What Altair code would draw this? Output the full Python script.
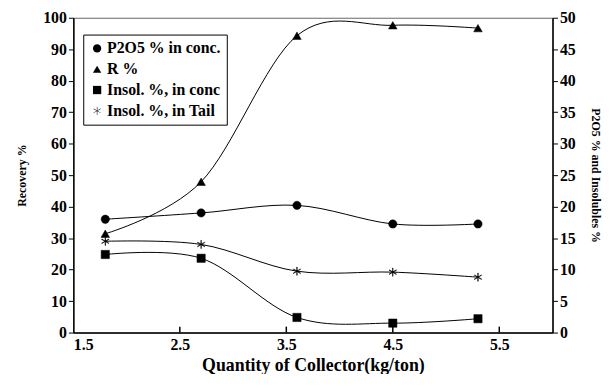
import altair as alt
import pandas as pd
import math

# ---- data ----
dosage = [1.8, 2.7, 3.6, 4.5, 5.3]
recovery = [31.4, 47.9, 94.3, 97.6, 96.7]          # R %, left axis
p2o5_conc = [18.0, 19.0, 20.2, 17.25, 17.25]         # right axis
insol_conc = [12.4, 11.8, 2.4, 1.5, 2.2]             # right axis
insol_tail = [14.5, 14.0, 9.75, 9.6, 8.8]            # right axis

series_names = ["P2O5 % in conc.", "R %", "Insol. %, in conc", "Insol. %, in Tail"]
x_ticks = [1.5, 2.5, 3.5, 4.5, 5.5]
inner_ticks = [2.5, 3.5, 4.5, 5.5]

left_df = pd.DataFrame({"x": dosage, "v": recovery, "s": "R %"})
right_df = pd.concat([
    pd.DataFrame({"x": dosage, "v": p2o5_conc, "s": "P2O5 % in conc."}),
    pd.DataFrame({"x": dosage, "v": insol_conc, "s": "Insol. %, in conc"}),
    pd.DataFrame({"x": dosage, "v": insol_tail, "s": "Insol. %, in Tail"}),
])
tick_df = pd.DataFrame({"x": inner_ticks})

FONT = "Liberation Serif, Times New Roman, serif"


def arm(angle_deg, w=0.06):
    a = math.radians(angle_deg)
    dx, dy = math.sin(a), -math.cos(a)
    px, py = -dy * w, dx * w
    pts = [(-dx + px, -dy + py), (dx + px, dy + py), (dx - px, dy - py), (-dx - px, -dy - py)]
    return "M" + "L".join(f"{x:.3f},{y:.3f}" for x, y in pts) + "Z"


star = arm(0) + arm(60) + arm(-60)

H = 318
xscale = alt.Scale(domain=[1.5, 6.0], nice=False, zero=False)
xaxis = alt.Axis(values=x_ticks, format=".1f", title="Quantity of Collector(kg/ton)",
                 ticks=False, labelPadding=4, titlePadding=4, titleFontSize=18,
                 labelFontSize=16, domainWidth=1.5)
X = alt.X("x:Q", scale=xscale, axis=xaxis)

shape = alt.Shape("s:N", scale=alt.Scale(domain=series_names,
                                         range=["circle", "triangle-up", "square", star]),
                  legend=alt.Legend(title=None, orient="none", legendX=10, legendY=17,
                                    strokeColor="black", fillColor="white", padding=6,
                                    labelFont=FONT, labelFontWeight="bold", labelFontSize=16,
                                    labelColor="black", rowPadding=5, symbolSize=70,
                                    symbolFillColor="black", symbolStrokeColor="black",
                                    symbolStrokeWidth=0.5, labelOffset=2))

# left axis layer (Recovery)
ly = alt.Y("v:Q", scale=alt.Scale(domain=[0, 100], nice=False),
           axis=alt.Axis(orient="left", values=list(range(0, 101, 10)), title="Recovery %",
                         tickSize=5, labelPadding=2, titlePadding=14, titleFontSize=12,
                         labelFontSize=16, domainWidth=1.5, grid=False))
left_line = alt.Chart(left_df).mark_line(interpolate="cardinal", color="black", strokeWidth=1).encode(
    x=X, y=ly, detail="s:N")
left_pts = alt.Chart(left_df).mark_point(filled=True, fill="black", stroke="black",
                                         strokeWidth=0.5, opacity=1, size=75).encode(
    x=X, y=ly, shape=shape)
left = alt.layer(left_line, left_pts)

# right axis layer (P2O5 and insolubles)
ry = alt.Y("v:Q", scale=alt.Scale(domain=[0, 50], nice=False),
           axis=alt.Axis(orient="right", values=list(range(0, 51, 5)),
                         title="P2O5 % and Insolubles %",
                         tickSize=5, labelPadding=2, titlePadding=13, titleFontSize=12,
                         labelFontSize=16, domainWidth=1.5, grid=False))
right_line = alt.Chart(right_df).mark_line(interpolate="cardinal", color="black", strokeWidth=1).encode(
    x=X, y=ry, detail="s:N")
right_pts = alt.Chart(right_df).mark_point(filled=True, fill="black", stroke="black",
                                           strokeWidth=0.5, opacity=1, size=70).encode(
    x=X, y=ry, shape=shape)
right = alt.layer(right_line, right_pts)

ticks = alt.Chart(tick_df).mark_rule(color="black", strokeWidth=1.5).encode(
    x=X, y=alt.value(H - 6), y2=alt.value(H))

chart = alt.layer(left, right, ticks).resolve_scale(y="independent").properties(
    width=484, height=H,
    autosize=alt.AutoSizeParams(type="none"),
    padding={"left": 66, "top": 8, "right": 52, "bottom": 40},
    background="white",
).configure_view(stroke="#666666", strokeWidth=1).configure_axis(
    labelFont=FONT, titleFont=FONT, labelFontWeight="bold", titleFontWeight="bold",
    labelColor="black", titleColor="black", domainColor="black", tickColor="black",
    grid=False,
)

chart.save("out.html", embed_options={"renderer": "svg", "actions": False})
